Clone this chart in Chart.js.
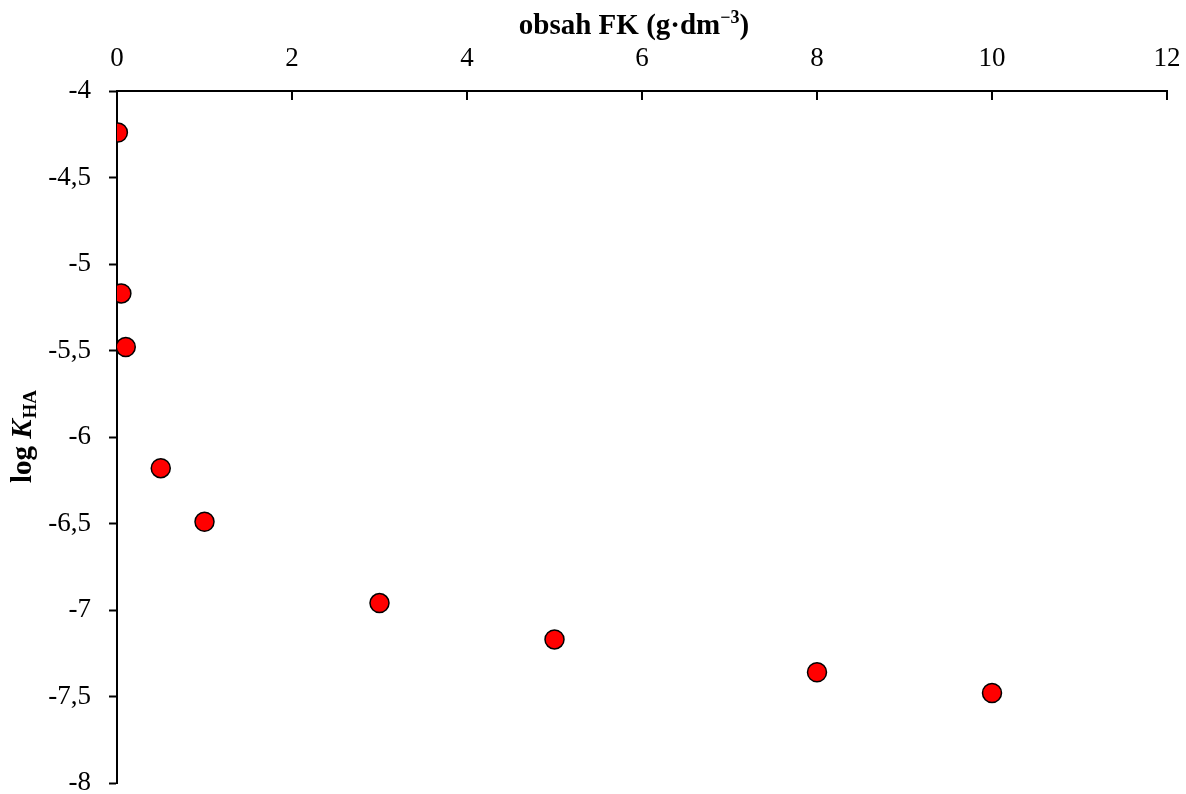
<!DOCTYPE html>
<html>
<head>
<meta charset="utf-8">
<script src="https://cdn.jsdelivr.net/npm/chart.js@4.4.1/dist/chart.umd.min.js"></script>
<style>
html,body{margin:0;padding:0;background:#fff;}
#wrap{width:1186px;height:794px;}
</style>
</head>
<body>
<div id="wrap"><canvas id="c" width="1186" height="794"></canvas></div>
<script>
const fkContent = [0.01, 0.05, 0.1, 0.5, 1, 3, 5, 8, 10];
const logKHA = [-4.24, -5.17, -5.48, -6.18, -6.49, -6.96, -7.17, -7.36, -7.48];
const xTicks = [0, 2, 4, 6, 8, 10, 12];
const yTicks = [-8, -7.5, -7, -6.5, -6, -5.5, -5, -4.5, -4];
const xTitleMain = 'obsah FK (g·dm';
const xTitleSup = '−3';
const xTitleEnd = ')';
const yTitleMain = 'log ';
const yTitleItalic = 'K';
const yTitleSub = 'HA';

const FONT = '"Liberation Serif", "Times New Roman", serif';

const points = fkContent.map((x, i) => ({x: x, y: logKHA[i]}));

const customDraw = {
  id: 'customDraw',
  afterDraw(chart) {
    const ctx = chart.ctx;
    const xs = chart.scales.x;
    const ca = chart.chartArea;
    ctx.save();
    // inward x ticks
    ctx.strokeStyle = '#000';
    ctx.lineWidth = 2;
    xTicks.forEach(v => {
      const px = Math.round(xs.getPixelForValue(v));
      ctx.beginPath();
      ctx.moveTo(px, ca.top);
      ctx.lineTo(px, ca.top + 9);
      ctx.stroke();
    });
    // x title
    ctx.fillStyle = '#000';
    ctx.textBaseline = 'alphabetic';
    const fMain = 'bold 29px ' + FONT;
    const fSup = 'bold 18px ' + FONT;
    ctx.font = fMain; const w1 = ctx.measureText(xTitleMain).width; const w3 = ctx.measureText(xTitleEnd).width;
    ctx.font = fSup; const w2 = ctx.measureText(xTitleSup).width;
    const total = w1 + w2 + w3;
    let sx = 634 - total / 2;
    const by = 34;
    ctx.textAlign = 'left';
    ctx.font = fMain; ctx.fillText(xTitleMain, sx, by); sx += w1;
    ctx.font = fSup; ctx.fillText(xTitleSup, sx, by - 11); sx += w2;
    ctx.font = fMain; ctx.fillText(xTitleEnd, sx, by);
    // y title rotated
    ctx.save();
    ctx.translate(31, (ca.top + ca.bottom) / 2);
    ctx.rotate(-Math.PI / 2);
    const yMain = 'bold 29px ' + FONT;
    const yIt = 'bold italic 29px ' + FONT;
    const ySub = 'bold 19px ' + FONT;
    ctx.font = yMain; const a1 = ctx.measureText(yTitleMain).width;
    ctx.font = yIt; const a2 = ctx.measureText(yTitleItalic).width;
    ctx.font = ySub; const a3 = ctx.measureText(yTitleSub).width;
    let tx = -(a1 + a2 + a3) / 2;
    ctx.font = yMain; ctx.fillText(yTitleMain, tx, 0); tx += a1;
    ctx.font = yIt; ctx.fillText(yTitleItalic, tx, 0); tx += a2 + 1;
    ctx.font = ySub; ctx.fillText(yTitleSub, tx, 5);
    ctx.restore();
    ctx.restore();
  }
};

new Chart(document.getElementById('c'), {
  type: 'scatter',
  data: {
    datasets: [{
      data: points,
      pointRadius: 9.5,
      pointHoverRadius: 9.5,
      pointBackgroundColor: '#FF0000',
      pointBorderColor: '#000',
      pointBorderWidth: 1.5
    }]
  },
  options: {
    responsive: false,
    animation: false,
    events: [],
    layout: { padding: { left: 0, top: 0, right: 19, bottom: 11 } },
    plugins: { legend: { display: false }, tooltip: { enabled: false } },
    scales: {
      x: {
        type: 'linear',
        position: 'top',
        min: 0, max: 12,
        afterBuildTicks: s => { s.ticks = xTicks.map(v => ({value: v})); },
        afterFit: s => { s.height = 91; s.paddingLeft = 0; s.paddingRight = 0; },
        grid: { display: false, drawTicks: false },
        border: { display: true, color: '#000', width: 2 },
        ticks: {
          color: '#000',
          font: { family: FONT, size: 27 },
          padding: 16,
          maxRotation: 0,
          callback: v => String(v).replace('.', ',')
        }
      },
      y: {
        type: 'linear',
        position: 'left',
        min: -8, max: -4,
        afterBuildTicks: s => { s.ticks = yTicks.map(v => ({value: v})); },
        afterFit: s => { s.width = 117; s.paddingTop = 0; s.paddingBottom = 0; },
        grid: { display: true, drawOnChartArea: false, drawTicks: true, tickLength: 8, color: '#000', tickWidth: 2, tickColor: '#000' },
        border: { display: true, color: '#000', width: 2 },
        ticks: {
          color: '#000',
          font: { family: FONT, size: 27 },
          padding: 18,
          callback: v => String(v).replace('.', ',')
        }
      }
    }
  },
  plugins: [customDraw]
});
</script>
</body>
</html>
